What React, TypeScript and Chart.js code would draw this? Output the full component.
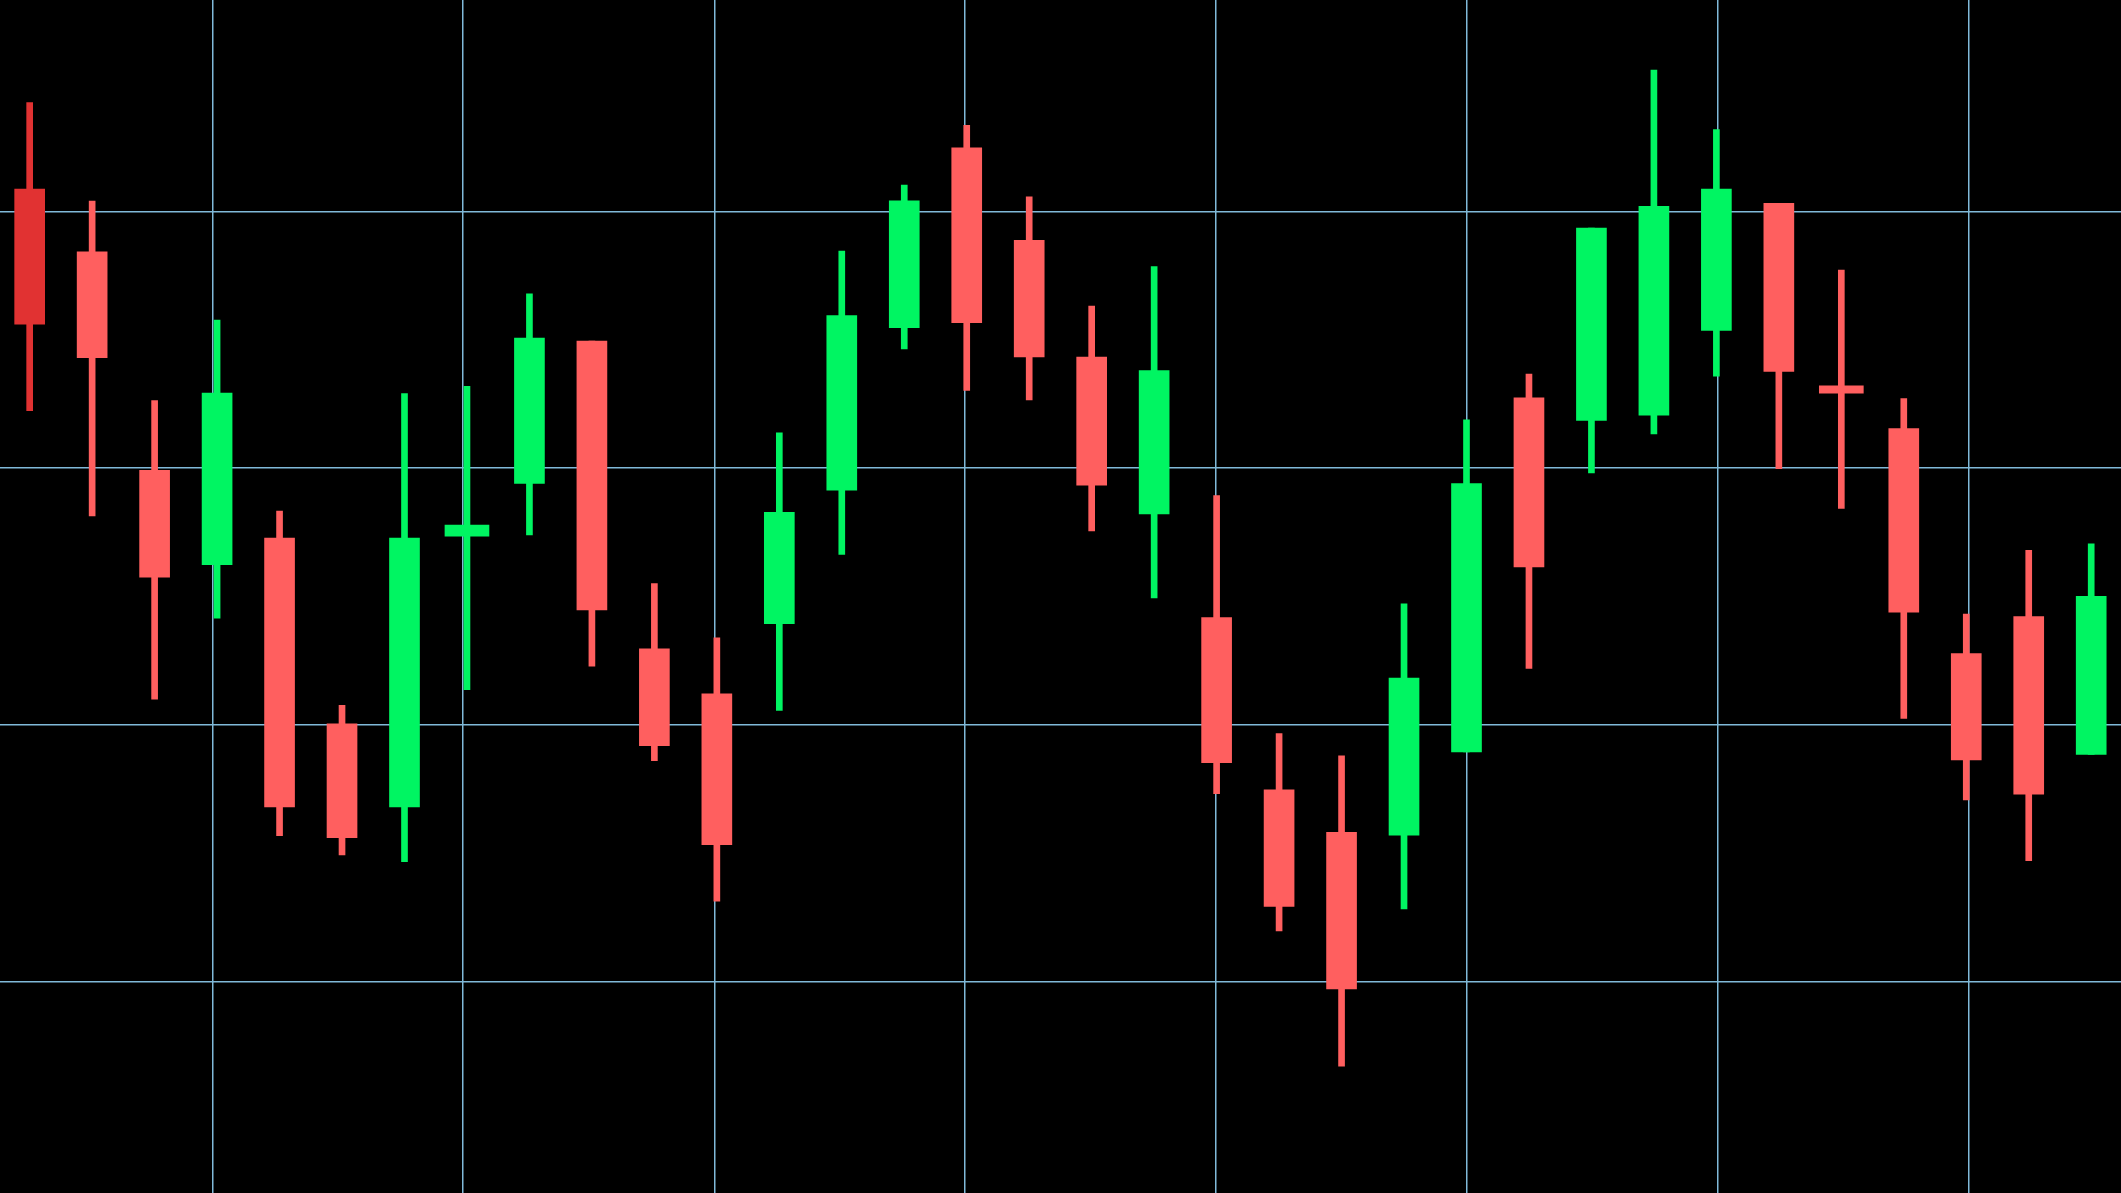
import { useEffect, useRef } from "react";
import { Chart, registerables } from "chart.js";

Chart.register(...registerables);

// OHLC values
const opens = [110.87, 108.42, 99.92, 96.25, 97.28, 90.05, 86.82, 97.36, 99.41, 104.95, 92.97, 91.22, 93.95, 99.15, 105.47, 112.47, 108.87, 104.33, 98.22, 94.19, 87.48, 85.83, 85.72, 88.96, 102.74, 101.86, 102.07, 105.36, 110.31, 103.21, 101.54, 92.79, 94.23, 88.86];
const highs = [114.23, 110.40, 102.63, 105.77, 98.33, 90.77, 102.91, 103.19, 106.79, 104.95, 95.51, 93.40, 101.38, 108.45, 111.02, 113.35, 110.56, 106.31, 107.85, 98.94, 89.67, 88.81, 94.72, 101.88, 103.66, 109.35, 115.50, 113.18, 110.31, 107.71, 102.71, 94.32, 96.80, 97.06];
const lows = [102.24, 98.14, 91.01, 94.16, 85.70, 84.95, 84.69, 91.38, 97.40, 92.30, 88.62, 83.15, 90.57, 96.65, 104.64, 103.03, 102.66, 97.56, 94.95, 87.33, 81.99, 76.73, 82.85, 88.96, 92.21, 99.82, 101.34, 103.58, 99.98, 98.44, 90.26, 87.09, 84.73, 88.86];
const closes = [105.61, 104.30, 95.76, 102.93, 86.82, 85.62, 97.28, 97.79, 105.07, 94.49, 89.20, 85.35, 98.28, 105.94, 110.41, 105.67, 104.33, 99.34, 103.80, 88.54, 82.94, 79.73, 91.83, 99.40, 96.16, 109.35, 110.19, 110.87, 103.77, 102.92, 94.40, 88.65, 87.31, 95.01];

// grid positions (in candle-index units) and price grid values
const timeGridTicks = [2.93, 6.94, 10.96, 14.97, 18.99, 23.01, 27.02, 31.04];
const priceGridTicks = [80, 90, 100, 110];

const highlightedIndex = 0;
const dojiThreshold = 0.6;

const UP = "#00f562";
const DOWN = "#ff5f5f";
const HIGHLIGHT = "#e13232";
const GRID = "#80b9d9";

function candleColor(i: number) {
  if (i === highlightedIndex) return HIGHLIGHT;
  return closes[i] >= opens[i] ? UP : DOWN;
}

export default function App() {
  const ref = useRef<HTMLCanvasElement | null>(null);

  useEffect(() => {
    document.body.style.margin = "0";
    document.body.style.background = "#000";
    document.body.style.overflow = "hidden";
    if (!ref.current) return;

    const isDoji = (i: number) => Math.abs(opens[i] - closes[i]) < dojiThreshold;

    const wickData = opens.map((_, i) => ({ x: i, y: [lows[i], highs[i]] }));
    const bodyData = opens.map((o, i) => ({ x: i, y: isDoji(i) ? null : [Math.min(o, closes[i]), Math.max(o, closes[i])] }));
    const dojiData = opens.map((o, i) => ({ x: i, y: isDoji(i) ? [Math.min(o, closes[i]), Math.max(o, closes[i])] : null }));

    const colorFn = (ctx: any) => candleColor(ctx.dataIndex);

    const chart = new Chart(ref.current, {
      type: "bar",
      data: {
        datasets: [
          { label: "wick", data: wickData as any, backgroundColor: colorFn, barThickness: 6, grouped: false, order: 3, borderWidth: 0 },
          { label: "body", data: bodyData as any, backgroundColor: colorFn, barThickness: 30, grouped: false, order: 2, borderWidth: 0 },
          { label: "doji", data: dojiData as any, backgroundColor: colorFn, barThickness: 44, grouped: false, order: 1, borderWidth: 0 },
        ],
      },
      options: {
        animation: false,
        responsive: true,
        maintainAspectRatio: false,
        layout: { padding: 0 },
        plugins: { legend: { display: false }, tooltip: { enabled: false } },
        scales: {
          x: {
            type: "linear",
            min: -0.475,
            max: 33.477,
            offset: false,
            afterBuildTicks: (scale: any) => {
              scale.ticks = timeGridTicks.map((v) => ({ value: v }));
            },
            ticks: { display: false },
            grid: { color: GRID, lineWidth: 1.5, drawTicks: false, offset: false },
            border: { display: false },
          },
          y: {
            type: "linear",
            min: 71.79,
            max: 118.225,
            afterBuildTicks: (scale: any) => {
              scale.ticks = priceGridTicks.map((v) => ({ value: v }));
            },
            ticks: { display: false },
            grid: { color: GRID, lineWidth: 1.5, drawTicks: false, offset: false },
            border: { display: false },
          },
        },
      },
    });
    return () => chart.destroy();
  }, []);

  return (
    <div style={{ position: "fixed", left: 0, top: 0, width: "100vw", height: "100vh", background: "#000" }}>
      <canvas ref={ref} />
    </div>
  );
}
